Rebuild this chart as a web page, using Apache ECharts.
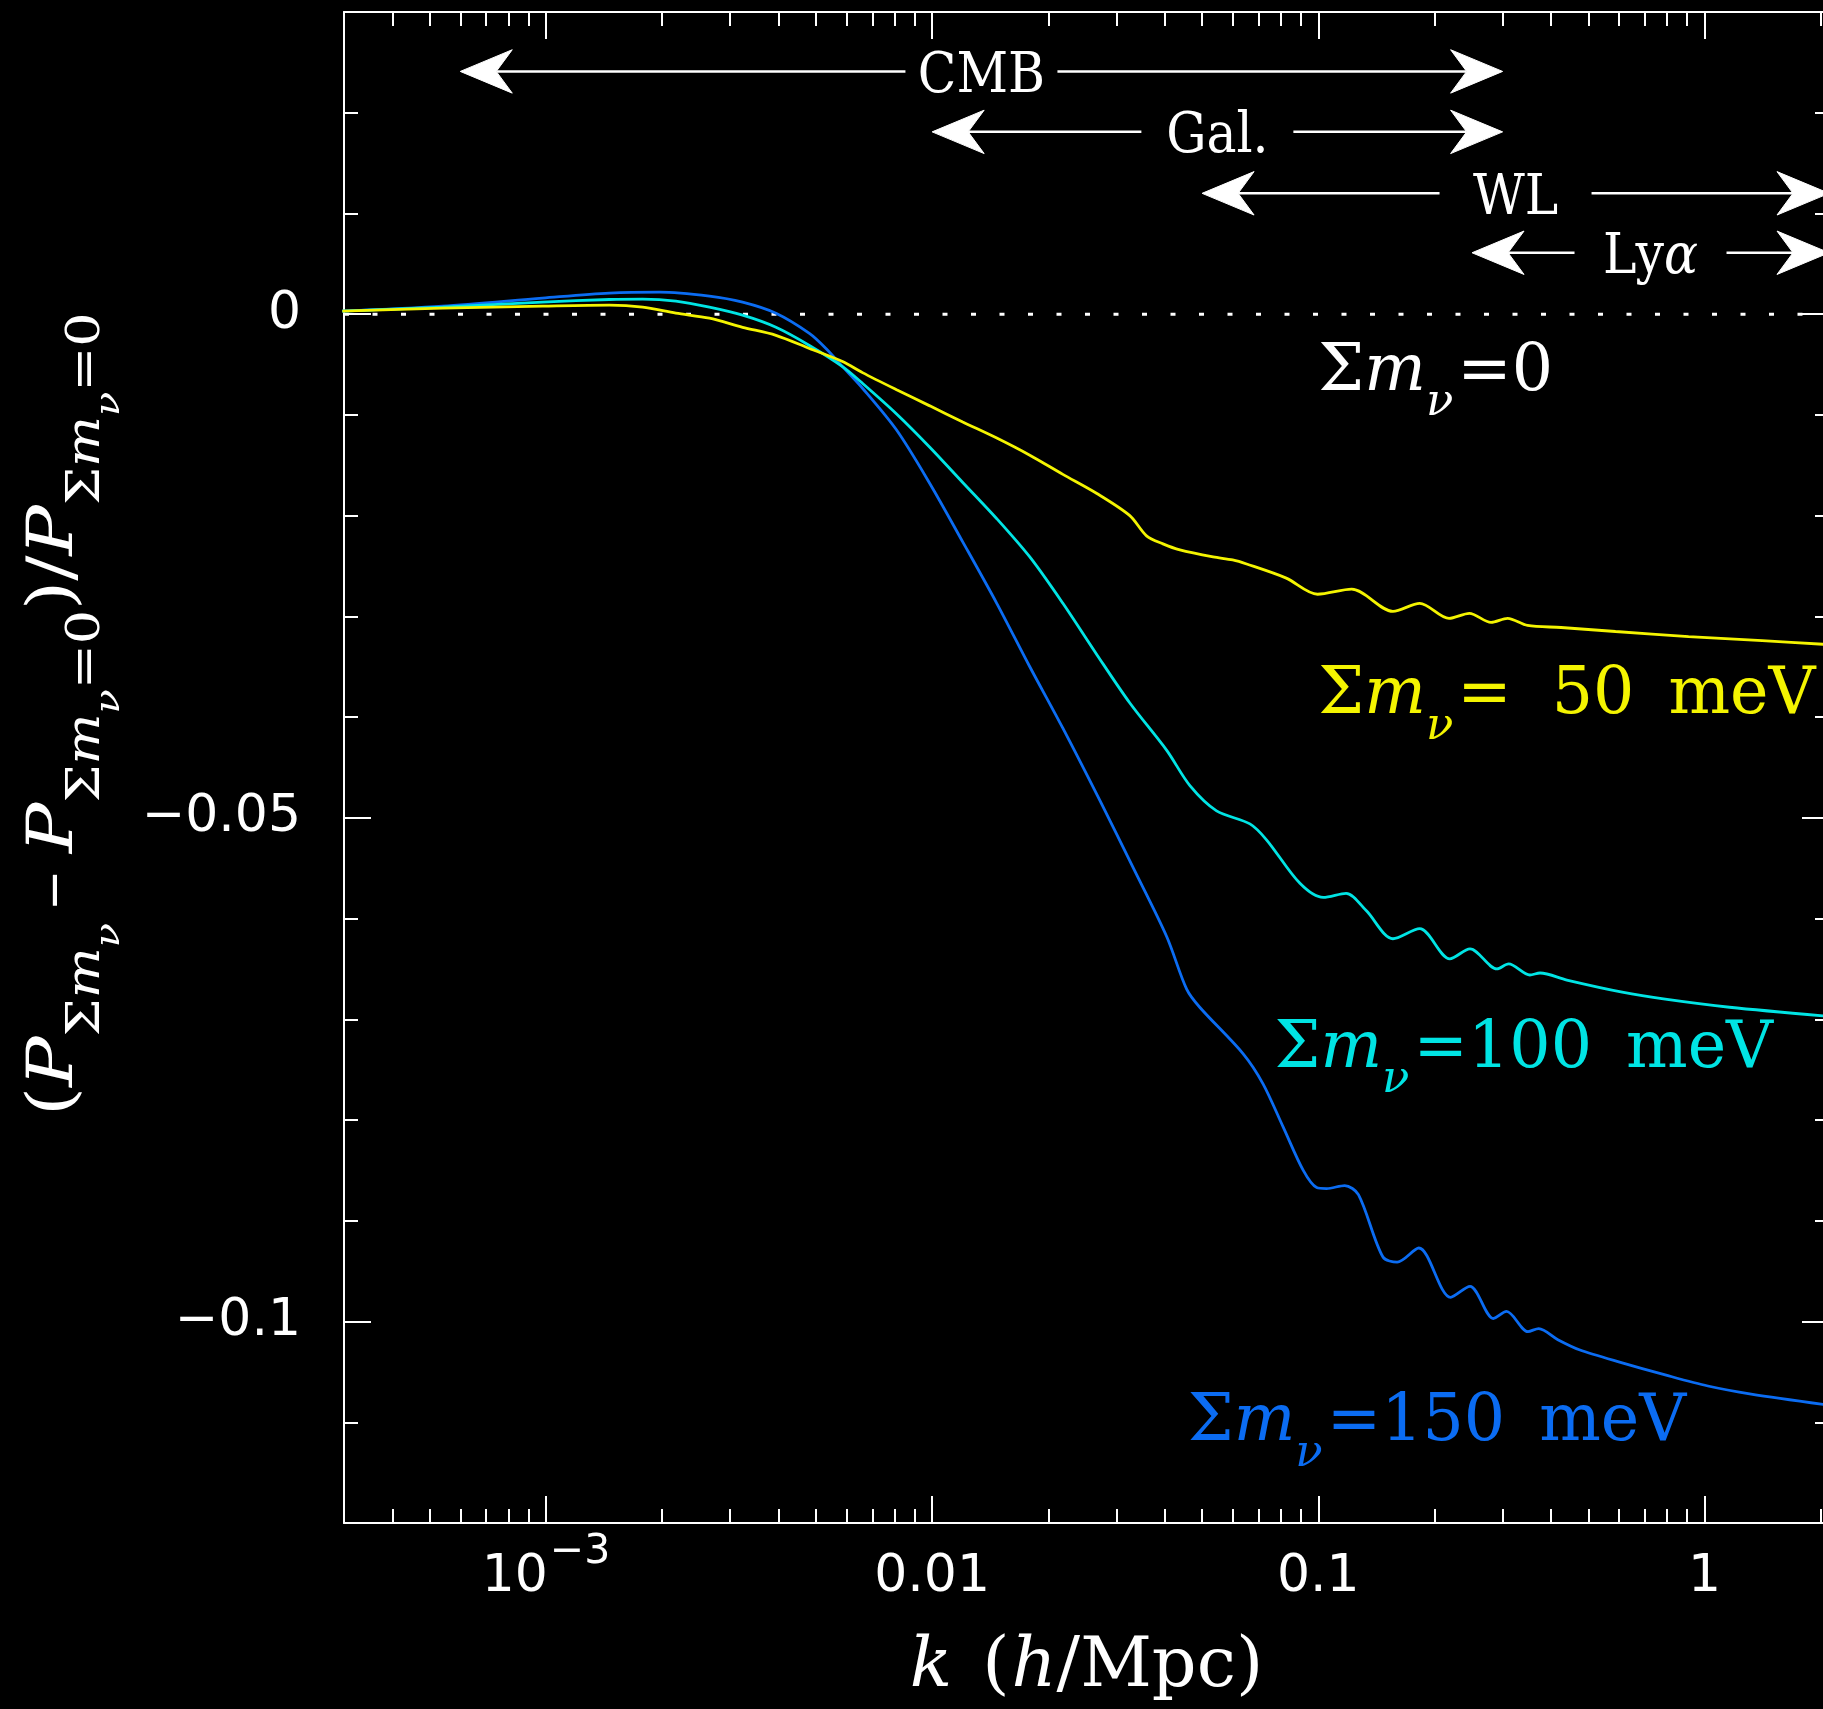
<!DOCTYPE html>
<html>
<head>
<meta charset="utf-8">
<script src="https://cdn.jsdelivr.net/npm/echarts@6/dist/echarts.min.js"></script>
<style>
  html, body { margin: 0; padding: 0; background: #000; }
  #chart { width: 1823px; height: 1709px; }
</style>
</head>
<body>
<div id="chart"></div>
<script>
// Fractional change of the matter power spectrum for three neutrino-mass sums,
// relative to the massless case, as a function of wavenumber k (h/Mpc).
const k50 = [2.97e-4, 5.4e-4, 9.8e-4, 1.46e-3, 1.78e-3, 2.17e-3, 2.65e-3, 3.23e-3, 3.94e-3, 4.81e-3,
  5.86e-3, 6.6e-3, 8.09e-3, 9.86e-3, 0.012, 0.0147, 0.0179, 0.0218, 0.0267, 0.0325,
  0.0359, 0.0396, 0.0438, 0.0534, 0.060, 0.0652, 0.0826, 0.0995, 0.122, 0.156,
  0.183, 0.218, 0.246, 0.280, 0.309, 0.348, 0.425, 0.588, 0.909, 1.41, 2.1];
const d50 = [0.0003, 0.0006, 0.0008, 0.0009, 0.0007, 0.0001, -0.0004, -0.0013, -0.0021, -0.0034,
  -0.0047, -0.0058, -0.0075, -0.0091, -0.0107, -0.0123, -0.0140, -0.0159, -0.0178, -0.0200,
  -0.0220, -0.0228, -0.0234, -0.0241, -0.0244, -0.0248, -0.0262, -0.0278, -0.0273, -0.0295,
  -0.0287, -0.0302, -0.0297, -0.0306, -0.0302, -0.0309, -0.0311, -0.0315, -0.0320, -0.0324, -0.0328];

const k100 = [2.97e-4, 5.4e-4, 9.8e-4, 1.46e-3, 1.78e-3, 2.17e-3, 2.65e-3, 3.23e-3, 3.94e-3, 4.81e-3,
  5.86e-3, 6.62e-3, 8.09e-3, 9.86e-3, 0.012, 0.0147, 0.0179, 0.0218, 0.0267, 0.0325,
  0.0405, 0.0465, 0.0545, 0.0665, 0.0735, 0.0896, 0.103, 0.118, 0.133, 0.156,
  0.183, 0.219, 0.247, 0.290, 0.311, 0.353, 0.375, 0.440, 0.612, 0.791, 1.16, 2.1];
const d100 = [0.0003, 0.0007, 0.0012, 0.00146, 0.0015, 0.0013, 0.0007, -0.0001, -0.0013, -0.0031,
  -0.0052, -0.0069, -0.0099, -0.0132, -0.0167, -0.0203, -0.0241, -0.0287, -0.0338, -0.0386,
  -0.0433, -0.0468, -0.0493, -0.0506, -0.0522, -0.0565, -0.0579, -0.0575, -0.0592, -0.0620,
  -0.0610, -0.0640, -0.0630, -0.0650, -0.0645, -0.0656, -0.0654, -0.0661, -0.0673, -0.0680, -0.0688, -0.0697];

const k150 = [2.97e-4, 5.4e-4, 9.8e-4, 1.46e-3, 1.97e-3, 2.65e-3, 3.23e-3, 3.94e-3, 4.81e-3, 5.31e-3,
  5.86e-3, 6.62e-3, 8.09e-3, 9.86e-3, 0.012, 0.0147, 0.0179, 0.0218, 0.0272, 0.0331,
  0.0405, 0.0456, 0.0493, 0.0638, 0.0719, 0.0811, 0.0914, 0.099, 0.105, 0.117,
  0.127, 0.147, 0.160, 0.182, 0.220, 0.247, 0.284, 0.307, 0.349, 0.372,
  0.417, 0.474, 0.612, 0.791, 1.02, 1.32, 2.1];
const d150 = [0.0003, 0.0008, 0.0016, 0.0021, 0.0022, 0.0018, 0.0012, 0.0001, -0.0019, -0.0034,
  -0.0052, -0.0074, -0.0115, -0.0168, -0.0226, -0.0287, -0.0350, -0.0411, -0.0483, -0.0549,
  -0.0618, -0.0670, -0.0688, -0.0734, -0.0764, -0.0807, -0.0850, -0.0867, -0.0868, -0.0865,
  -0.0874, -0.0936, -0.0941, -0.0927, -0.0976, -0.0965, -0.0997, -0.0990, -0.1010, -0.1007,
  -0.1018, -0.1028, -0.1041, -0.1053, -0.1064, -0.1072, -0.1083];

// axis ranges and ticks
const kRange = [3e-4, 2.1];
const yRange = [-0.12, 0.03];
const xMajorTicks = [0.001, 0.01, 0.1, 1];
const xTickLabels = ['{m|10}{s|\u22123}', '0.01', '0.1', '1'];
const xMinorTicks = [4e-4, 5e-4, 6e-4, 7e-4, 8e-4, 9e-4,
  0.002, 0.003, 0.004, 0.005, 0.006, 0.007, 0.008, 0.009,
  0.02, 0.03, 0.04, 0.05, 0.06, 0.07, 0.08, 0.09,
  0.2, 0.3, 0.4, 0.5, 0.6, 0.7, 0.8, 0.9, 2];
const yMajorTicks = [0, -0.05, -0.1];
const yTickLabels = ['0', '\u22120.05', '\u22120.1'];
const yMinorTicks = [0.02, 0.01, -0.01, -0.02, -0.03, -0.04, -0.06, -0.07, -0.08, -0.09, -0.11];

// sensitivity ranges of the probes (k from / to, drawn at a fixed height)
const probeNames = ['CMB', 'Gal.', 'WL', 'Ly\u03b1'];
const probeKFrom = [6.0e-4, 0.01, 0.05, 0.25];
const probeKTo = [0.3, 0.3, 2.1, 2.1];
const probeLevel = [0.0241, 0.0181, 0.0120, 0.0061];

const WHITE = '#ffffff';
const YELLOW = '#f4f400';
const CYAN = '#00e4e4';
const BLUE = '#0b6cf2';
const SERIF = 'DejaVu Serif';
const TAG_FONT = 'DejaVu Serif Condensed, Liberation Serif';
const TICK_FONT = 'DejaVu Sans';

const zip = (ks, ds) => ks.map((k, i) => [k, ds[i]]);

function findLabel(list, labels, v) {
  for (let i = 0; i < list.length; i++) {
    if (Math.abs(list[i] - v) <= Math.abs(list[i]) * 1e-6 + 1e-12) return labels[i];
  }
  return '';
}

const lineW = 2;
function xAxisDef(position, ticks, len, withLine, withLabels) {
  return {
    type: 'log', logBase: 10, min: kRange[0], max: kRange[1], position: position,
    axisLine: { show: withLine, onZero: false, lineStyle: { color: WHITE, width: lineW } },
    axisTick: { show: true, inside: true, length: len, customValues: ticks, lineStyle: { color: WHITE, width: lineW } },
    axisLabel: withLabels ? {
      show: true, customValues: xMajorTicks, margin: 28, color: WHITE,
      fontFamily: TICK_FONT, fontSize: 52, lineHeight: 52,
      formatter: v => findLabel(xMajorTicks, xTickLabels, v),
      rich: {
        m: { fontFamily: TICK_FONT, fontSize: 52, lineHeight: 52, color: WHITE },
        s: { fontFamily: TICK_FONT, fontSize: 41, lineHeight: 52, color: WHITE, padding: [0, 0, 49, 2] }
      }
    } : { show: false },
    splitLine: { show: false }, minorTick: { show: false }, minorSplitLine: { show: false }
  };
}
function yAxisDef(position, ticks, len, withLine, withLabels) {
  return {
    type: 'value', min: yRange[0], max: yRange[1], position: position,
    axisLine: { show: withLine, onZero: false, lineStyle: { color: WHITE, width: lineW } },
    axisTick: { show: true, inside: true, length: len, customValues: ticks, lineStyle: { color: WHITE, width: lineW } },
    axisLabel: withLabels ? {
      show: true, customValues: yMajorTicks, margin: 43, color: WHITE,
      fontFamily: TICK_FONT, fontSize: 52,
      formatter: v => findLabel(yMajorTicks, yTickLabels, v)
    } : { show: false },
    splitLine: { show: false }, minorTick: { show: false }
  };
}

function curve(name, ks, ds, color) {
  return {
    name: name, type: 'line', xAxisIndex: 0, yAxisIndex: 0,
    data: zip(ks, ds), showSymbol: false, symbol: 'none', smooth: 0.3,
    lineStyle: { color: color, width: 2.8 }, z: 3, silent: true, clip: true
  };
}

const chart = echarts.init(document.getElementById('chart'), null, { renderer: 'canvas', width: 1823, height: 1709 });

chart.setOption({
  backgroundColor: '#000000',
  animation: false,
  grid: { left: 344, right: -6, top: 12, bottom: 186, containLabel: false, outerBoundsMode: 'none' },
  xAxis: [
    xAxisDef('bottom', xMajorTicks, 27, true, true),
    xAxisDef('bottom', xMinorTicks, 14, false, false),
    xAxisDef('top', xMajorTicks, 27, true, false),
    xAxisDef('top', xMinorTicks, 14, false, false)
  ],
  yAxis: [
    yAxisDef('left', yMajorTicks, 27, true, true),
    yAxisDef('left', yMinorTicks, 14, false, false),
    yAxisDef('right', yMajorTicks, 27, true, false),
    yAxisDef('right', yMinorTicks, 14, false, false)
  ],
  series: [
    {
      name: 'zero', type: 'line', xAxisIndex: 0, yAxisIndex: 0,
      data: [[kRange[0], 0], [kRange[1], 0]], symbol: 'none', silent: true, z: 1,
      lineStyle: { color: WHITE, width: 3, type: [5, 23.5] }
    },
    curve('150 meV', k150, d150, BLUE),
    curve('100 meV', k100, d100, CYAN),
    curve('50 meV', k50, d50, YELLOW)
  ]
});

// ---- annotations: math-style labels laid out piece by piece on a shared baseline ----
const measureCtx = document.createElement('canvas').getContext('2d');
function pieceFont(p) { return (p.it ? 'italic ' : '') + p.size + 'px ' + p.family; }
function layoutPieces(pieces) {
  let x = 0;
  const items = [];
  pieces.forEach(p => {
    x += p.dx || 0;
    items.push({ p: p, x: x });
    measureCtx.font = pieceFont(p);
    x += measureCtx.measureText(p.t).width;
  });
  return { items: items, width: x };
}
// origin = left end of the baseline; stretch widens the run along the text direction
function mathGroup(pieces, color, ox, oy, rotation, stretch) {
  const lay = layoutPieces(pieces);
  return {
    type: 'group', x: ox, y: oy, rotation: rotation || 0, scaleX: stretch || 1, silent: true,
    children: lay.items.map(it => ({
      type: 'text', x: it.x, y: (it.p.dy || 0) - 0.34 * it.p.size, silent: true,
      style: {
        text: it.p.t, fontSize: it.p.size, fontFamily: it.p.family,
        fontStyle: it.p.it ? 'italic' : 'normal', fill: color,
        align: 'left', verticalAlign: 'middle'
      }
    }))
  };
}
const P = (t, size, opts) => Object.assign({ t: t, size: size, family: SERIF }, opts || {});

function massLabel(valueText, gapBefore) {
  const out = [P('\u03a3', 65), P('m', 65, { it: true }), P('\u03bd', 45, { it: true, dy: 24 }), P('=', 65, { dx: 4 })];
  if (valueText === '0') {
    out.push(P('0', 65));
  } else {
    out.push(P(valueText, 65, { dx: gapBefore }));
    out.push(P('meV', 65, { dx: 34 }));
  }
  return out;
}

const toPx = (k, v) => chart.convertToPixel({ xAxisIndex: 0, yAxisIndex: 0 }, [k, v]);
const graphics = [];

// curve labels: anchored at the left end of their baseline
const massLabels = [
  { pieces: massLabel('0', 0), color: WHITE, at: [0.1, -0.0080] },
  { pieces: massLabel('50', 40), color: YELLOW, at: [0.1, -0.0401] },
  { pieces: massLabel('100', 0), color: CYAN, at: [0.077, -0.0752] },
  { pieces: massLabel('150', 0), color: BLUE, at: [0.0459, -0.1123] }
];
massLabels.forEach(l => {
  const p = toPx(l.at[0], l.at[1]);
  graphics.push(mathGroup(l.pieces, l.color, p[0], p[1], 0));
});

// probe ranges: double arrows with the name in a gap at the middle
function arrowHead(xt, y, dir) {
  return {
    type: 'polygon', silent: true,
    shape: { points: [[xt, y], [xt + dir * 52, y - 21.7], [xt + dir * 36, y], [xt + dir * 52, y + 21.7]] },
    style: { fill: WHITE, stroke: WHITE, lineWidth: 1 }
  };
}
probeNames.forEach((name, i) => {
  const a = toPx(probeKFrom[i], probeLevel[i]);
  const b = toPx(probeKTo[i], probeLevel[i]);
  const y = a[1];
  const xm = (a[0] + b[0]) / 2;
  graphics.push({ type: 'line', silent: true, shape: { x1: a[0] + 36, y1: y, x2: xm - 76, y2: y }, style: { stroke: WHITE, lineWidth: 2.5 } });
  graphics.push({ type: 'line', silent: true, shape: { x1: xm + 76, y1: y, x2: b[0] - 36, y2: y }, style: { stroke: WHITE, lineWidth: 2.5 } });
  graphics.push(arrowHead(a[0], y, 1));
  graphics.push(arrowHead(b[0], y, -1));
  const pieces = name === 'Ly\u03b1'
    ? [{ t: 'Ly', size: 56, family: TAG_FONT }, { t: '\u03b1', size: 56, family: TAG_FONT, it: true }]
    : [{ t: name, size: 56, family: TAG_FONT }];
  const w = layoutPieces(pieces).width;
  graphics.push(mathGroup(pieces, WHITE, xm - w / 2, y + 25, 0));
});

// x-axis title, centred under the plot
const xTitle = [P('k', 70, { it: true }), P('(', 70, { dx: 30 }), P('h', 70, { it: true, dx: 2 }), P('/', 70), P('Mpc', 70), P(')', 70)];
const gridLeft = toPx(kRange[0], 0)[0];
const gridRight = toPx(kRange[1], 0)[0];
const xtW = layoutPieces(xTitle).width;
graphics.push(mathGroup(xTitle, WHITE, (gridLeft + gridRight) / 2 - xtW / 2, 1692, 0));

// y-axis title, reading bottom to top
const sub = (t, o) => P(t, 46, Object.assign({ dy: 26 }, o || {}));
const subsub = (t) => P(t, 34, { it: true, dy: 45 });
const yTitle = [
  P('(', 64), P('P', 64, { it: true }), sub('\u03a3'), sub('m', { it: true }), subsub('\u03bd'),
  P('\u2013', 64, { dx: 12 }), P('P', 64, { it: true, dx: 16 }), sub('\u03a3'), sub('m', { it: true }), subsub('\u03bd'), sub('=0'),
  P(')', 64), P('/', 64), P('P', 64, { it: true }), sub('\u03a3'), sub('m', { it: true }), subsub('\u03bd'), sub('=0')
];
graphics.push(mathGroup(yTitle, WHITE, 77, 1116, Math.PI / 2, 1.17));

chart.setOption({ graphic: { elements: graphics } });
</script>
</body>
</html>
